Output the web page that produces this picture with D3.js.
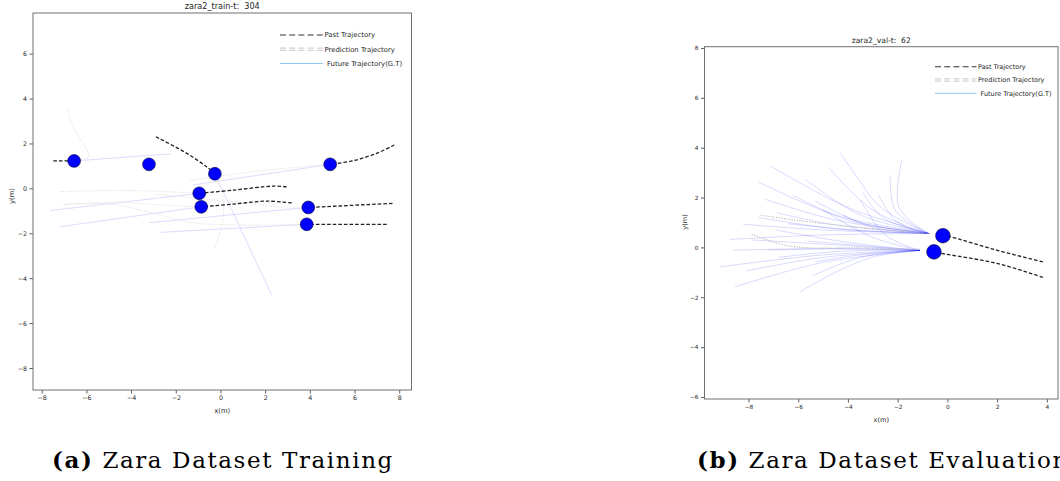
<!DOCTYPE html>
<html>
<head>
<meta charset="utf-8">
<script src="https://cdn.jsdelivr.net/npm/d3@7"></script>
<style>
  body { margin: 0; background: #fff; }
  svg text { fill: #262626; }
</style>
</head>
<body>
<script>
// ---------- data (metres) ----------
var trainTicksX = [-8, -6, -4, -2, 0, 2, 4, 6, 8];
var trainTicksY = [-8, -6, -4, -2, 0, 2, 4, 6];
var valTicksX = [-8, -6, -4, -2, 0, 2, 4];
var valTicksY = [-6, -4, -2, 0, 2, 4, 6, 8];

var trainAgents = [[-6.55, 1.22], [-3.20, 1.07], [-0.25, 0.65], [4.91, 1.07],
                   [-0.95, -0.22], [-0.86, -0.82], [3.93, -0.85], [3.86, -1.60]];

var trainPast = [
    [[-7.48, 1.22], [-6.55, 1.22]],
    [[-2.89, 2.30], [-1.51, 1.56], [-0.62, 0.96], [-0.25, 0.65]],
    [[7.78, 1.93], [6.99, 1.56], [5.94, 1.23], [4.91, 1.07]],
    [[2.96, 0.07], [2.36, 0.10], [0.57, -0.08], [-0.95, -0.22]],
    [[3.19, -0.65], [2.07, -0.57], [0.57, -0.70], [-0.86, -0.82]],
    [[7.70, -0.67], [3.93, -0.85]],
    [[7.44, -1.60], [3.86, -1.60]]
];

var trainFuture = [
    [[-6.55, 1.22], [-2.21, 1.54]],
    [[-0.25, 0.65], [2.29, -4.75]],
    [[4.91, 1.07], [-1.23, 0.15]],
    [[-0.95, -0.22], [-7.63, -0.99]],
    [[-0.86, -0.82], [-7.18, -1.71]],
    [[3.93, -0.85], [-3.20, -1.53]],
    [[3.86, -1.60], [-2.71, -1.96]]
];

var trainPred = [
    [[-6.45, 1.25], [-5.91, 1.41], [-6.66, 2.89], [-6.84, 3.61]],
    [[-0.25, 0.65], [0.12, -0.50], [0.10, -1.40], [-0.25, -2.67]],
    [[4.91, 1.07], [1.5, 0.75], [-1.40, 0.35]],
    [[-0.95, -0.22], [-3.0, -0.12], [-5.2, -0.10], [-7.18, -0.15]],
    [[-0.86, -0.82], [-2.5, -0.75], [-4.6, -0.62], [-7.00, -0.70]],
    [[3.93, -0.85], [3.26, -0.88], [0.5, -0.60], [-3.00, -0.25]],
    [[3.86, -1.60], [0.57, -1.63], [-1.53, -1.49], [-3.01, -1.11], [-4.94, -0.70], [-7.04, -0.74]]
];

var valAgents = [[-0.18, 0.47], [-0.54, -0.18]];

var valPast = [
    [[3.84, -0.58], [1.98, -0.11], [0.10, 0.43], [-0.18, 0.47]],
    [[3.84, -1.20], [1.99, -0.64], [-0.24, -0.24], [-0.54, -0.18]]
];

var valPred = [
    [[-0.70, 0.56], [-2.44, 0.70], [-6.19, 1.10], [-7.53, 1.30]],
    [[-1.10, -0.08], [-3.5, -0.02], [-6.33, 0.05], [-7.87, 0.53]]
];

// future fan of the upper agent: start, bend, end
var valFutureUpper = [
    [[-0.76, 0.56], [-1.95, 1.60], [-1.83, 3.50]],
    [[-0.76, 0.56], [-2.10, 1.50], [-2.30, 2.90]],
    [[-0.76, 0.56], [-2.71, 1.63], [-3.64, 2.83], [-4.31, 3.79]],
    [[-0.76, 0.56], [-3.00, 1.50], [-4.78, 3.21]],
    [[-0.76, 0.56], [-4.00, 1.60], [-7.10, 3.26]],
    [[-0.76, 0.56], [-4.50, 1.30], [-7.60, 2.63]],
    [[-0.76, 0.56], [-3.50, 1.30], [-5.72, 2.73]],
    [[-0.76, 0.56], [-4.50, 1.10], [-7.33, 1.93]],
    [[-0.76, 0.56], [-2.00, 1.00], [-2.77, 2.10]],
    [[-0.76, 0.56], [-4.00, 1.10], [-6.22, 2.10]],
    [[-0.76, 0.56], [-3.50, 1.00], [-5.32, 1.87]],
    [[-0.76, 0.56], [-4.50, 0.90], [-6.86, 1.39]],
    [[-0.76, 0.56], [-5.00, 0.70], [-8.22, 0.93]],
    [[-0.76, 0.56], [-5.00, 0.50], [-8.74, 0.32]],
    [[-0.76, 0.56], [-4.50, 0.75], [-7.60, 1.20]],
    [[-0.76, 0.56], [-3.80, 0.70], [-6.40, 0.95]],
    [[-0.76, 0.56], [-3.00, 0.80], [-4.20, 1.30]],
    [[-0.76, 0.56], [-2.60, 1.20], [-3.40, 2.20]]
];

// future fan of the lower agent
var valFutureLower = [
    [[-1.10, -0.12], [-5.00, -0.05], [-8.60, -0.11]],
    [[-1.10, -0.12], [-5.00, -0.30], [-9.14, -0.78]],
    [[-1.10, -0.12], [-5.00, -0.60], [-8.54, -1.58]],
    [[-1.10, -0.12], [-2.98, -0.38], [-4.58, -1.04], [-5.92, -1.78]],
    [[-1.10, -0.12], [-3.50, -0.40], [-5.45, -1.15]],
    [[-1.10, -0.12], [-5.00, -0.40], [-8.07, -0.94]],
    [[-1.10, -0.12], [-4.00, -0.05], [-7.20, -0.11]],
    [[-1.10, -0.12], [-3.50, -0.30], [-5.32, -0.58]],
    [[-1.10, -0.12], [-4.50, 0.10], [-7.90, 0.30]],
    [[-1.10, -0.12], [-4.00, 0.20], [-6.90, 0.70]],
    [[-1.10, -0.12], [-3.00, 0.40], [-5.00, 1.50]],
    [[-1.10, -0.12], [-2.50, 0.50], [-3.50, 1.90]],
    [[-1.10, -0.12], [-4.20, -0.15], [-6.80, -0.40]],
    [[-1.10, -0.12], [-3.20, 0.05], [-5.60, 0.25]]
];

// ---------- drawing ----------
var W = 1060, H = 481;
var svg = d3.select("body").append("svg")
    .attr("width", W)
    .attr("height", H);

function minus(d) { return d < 0 ? "\u2212" + Math.abs(d) : String(d); }

function panel(cfg) {
    var x = d3.scaleLinear().domain(cfg.xDomain).range([cfg.left, cfg.right]);
    var y = d3.scaleLinear().domain(cfg.yDomain).range([cfg.bottom, cfg.top]);
    var line = d3.line()
        .x(function(d) { return x(d[0]); })
        .y(function(d) { return y(d[1]); })
        .curve(d3.curveCatmullRom);

    var g = svg.append("g").style("font-family", "'DejaVu Sans', sans-serif");
    g.append("clipPath").attr("id", cfg.id + "-clip")
        .append("rect")
        .attr("x", cfg.left).attr("y", cfg.top)
        .attr("width", cfg.right - cfg.left)
        .attr("height", cfg.bottom - cfg.top);

    var plot = g.append("g").attr("clip-path", "url(#" + cfg.id + "-clip)");

    plot.selectAll(".fut").data(cfg.future).enter()
        .append("path").attr("class", "fut")
        .attr("d", line)
        .attr("fill", "none")
        .attr("stroke", "#0000ff")
        .attr("stroke-opacity", cfg.futOpacity)
        .attr("stroke-width", 0.9);

    plot.selectAll(".pred").data(cfg.pred).enter()
        .append("path").attr("class", "pred")
        .attr("d", line)
        .attr("fill", "none")
        .attr("stroke", cfg.predColor)
        .attr("stroke-width", 1.1)
        .attr("stroke-dasharray", "1.2,1.4");

    plot.selectAll(".past").data(cfg.past).enter()
        .append("path").attr("class", "past")
        .attr("d", line)
        .attr("fill", "none")
        .attr("stroke", "#222")
        .attr("stroke-width", 1.3)
        .attr("stroke-dasharray", "3.6,2");

    plot.selectAll(".agent").data(cfg.agents).enter()
        .append("circle").attr("class", "agent")
        .attr("cx", function(d) { return x(d[0]); })
        .attr("cy", function(d) { return y(d[1]); })
        .attr("r", cfg.r)
        .attr("fill", "#0000ff")
        .attr("stroke", "#000033")
        .attr("stroke-width", 0.6);

    // axes
    var ax = g.append("g")
        .attr("transform", "translate(0," + cfg.bottom + ")")
        .call(d3.axisBottom(x).tickValues(cfg.ticksX).tickSize(3.5).tickPadding(2.5).tickFormat(minus));
    var ay = g.append("g")
        .attr("transform", "translate(" + cfg.left + ",0)")
        .call(d3.axisLeft(y).tickValues(cfg.ticksY).tickSize(3.5).tickPadding(2.5).tickFormat(minus));
    [ax, ay].forEach(function(a) {
        a.select(".domain").remove();
        a.selectAll("line").attr("stroke", "#333").attr("stroke-width", 0.8);
        a.selectAll("text")
            .style("font-family", "'DejaVu Sans', sans-serif")
            .attr("font-size", cfg.tickSize);
    });

    g.append("rect")
        .attr("x", cfg.left).attr("y", cfg.top)
        .attr("width", cfg.right - cfg.left)
        .attr("height", cfg.bottom - cfg.top)
        .attr("fill", "none")
        .attr("stroke", "#707070")
        .attr("stroke-width", 1);

    g.append("text")
        .attr("x", (cfg.left + cfg.right) / 2)
        .attr("y", cfg.top - 4)
        .attr("text-anchor", "middle")
        .attr("font-size", cfg.titleSize)
        .style("white-space", "pre")
        .text(cfg.title);

    g.append("text")
        .attr("x", (cfg.left + cfg.right) / 2)
        .attr("y", cfg.xLabelY)
        .attr("text-anchor", "middle")
        .attr("font-size", cfg.labelSize)
        .text("x(m)");

    g.append("text")
        .attr("transform", "translate(" + cfg.yLabelX + "," + cfg.yLabelY + ") rotate(-90)")
        .attr("text-anchor", "middle")
        .attr("font-size", cfg.labelSize)
        .text("y(m)");

    // legend
    var lg = g.append("g").attr("transform", "translate(" + cfg.legX + "," + cfg.legY + ")");
    var len = cfg.legLen, step = cfg.legStep;
    lg.append("line").attr("x1", 0).attr("x2", len).attr("y1", 0).attr("y2", 0)
        .attr("stroke", "#333").attr("stroke-width", 1.1).attr("stroke-dasharray", "6,3.2");
    lg.append("line").attr("x1", 0).attr("x2", len).attr("y1", step - 1.1).attr("y2", step - 1.1)
        .attr("stroke", "#b8b8b8").attr("stroke-width", 0.8).attr("stroke-dasharray", "6,3.2");
    lg.append("line").attr("x1", 0).attr("x2", len).attr("y1", step + 1.1).attr("y2", step + 1.1)
        .attr("stroke", "#b8b8b8").attr("stroke-width", 0.8).attr("stroke-dasharray", "6,3.2");
    lg.append("line").attr("x1", 0).attr("x2", len).attr("y1", 2 * step).attr("y2", 2 * step)
        .attr("stroke", "#8cc6ee").attr("stroke-width", 1);
    var labels = ["Past Trajectory", "Prediction Trajectory", "Future Trajectory(G.T)"];
    lg.selectAll(".lt").data(labels).enter()
        .append("text").attr("class", "lt")
        .attr("x", function(d, i) { return i == 2 ? len + 4 : len + 1.5; })
        .attr("y", function(d, i) { return i * step; })
        .attr("dy", "0.35em")
        .attr("font-size", cfg.legSize)
        .text(function(d) { return d; });
}

panel({
    id: "train", title: "zara2_train-t:  304",
    left: 33, right: 411.5, top: 13, bottom: 390,
    xDomain: [-8.39, 8.55], yDomain: [-8.98, 7.81],
    ticksX: trainTicksX, ticksY: trainTicksY,
    agents: trainAgents, past: trainPast, future: trainFuture, pred: trainPred,
    r: 6.4, futOpacity: 0.16, predColor: "#e2e2e2",
    tickSize: 6.3, titleSize: 8.1, labelSize: 6.8, legSize: 6.9,
    xLabelY: 413, yLabelX: 14, yLabelY: 196,
    legX: 280, legY: 35, legLen: 43, legStep: 14.2
});

panel({
    id: "val", title: "zara2_val-t:  62",
    left: 704.5, right: 1058, top: 46.7, bottom: 399,
    xDomain: [-9.77, 4.45], yDomain: [-6.08, 8.05],
    ticksX: valTicksX, ticksY: valTicksY,
    agents: valAgents, past: valPast, future: valFutureUpper.concat(valFutureLower), pred: valPred,
    r: 7.3, futOpacity: 0.17, predColor: "#b8b8b8",
    tickSize: 5.8, titleSize: 7.6, labelSize: 6.6, legSize: 6.5,
    xLabelY: 421.5, yLabelX: 686.5, yLabelY: 222,
    legX: 935, legY: 66.7, legLen: 41.5, legStep: 13.3
});

// sub-figure captions
var captions = [["(a)", " Zara Dataset Training", 52], ["(b)", " Zara Dataset Evaluation", 697]];
captions.forEach(function(c) {
    var t = svg.append("text")
        .attr("x", c[2]).attr("y", 468)
        .style("font-family", "'DejaVu Serif', serif")
        .style("fill", "#000")
        .style("white-space", "pre")
        .style("letter-spacing", "1.6px")
        .attr("font-size", 23);
    t.append("tspan").style("font-weight", "bold").text(c[0]);
    t.append("tspan").text(c[1]);
});
</script>
</body>
</html>
